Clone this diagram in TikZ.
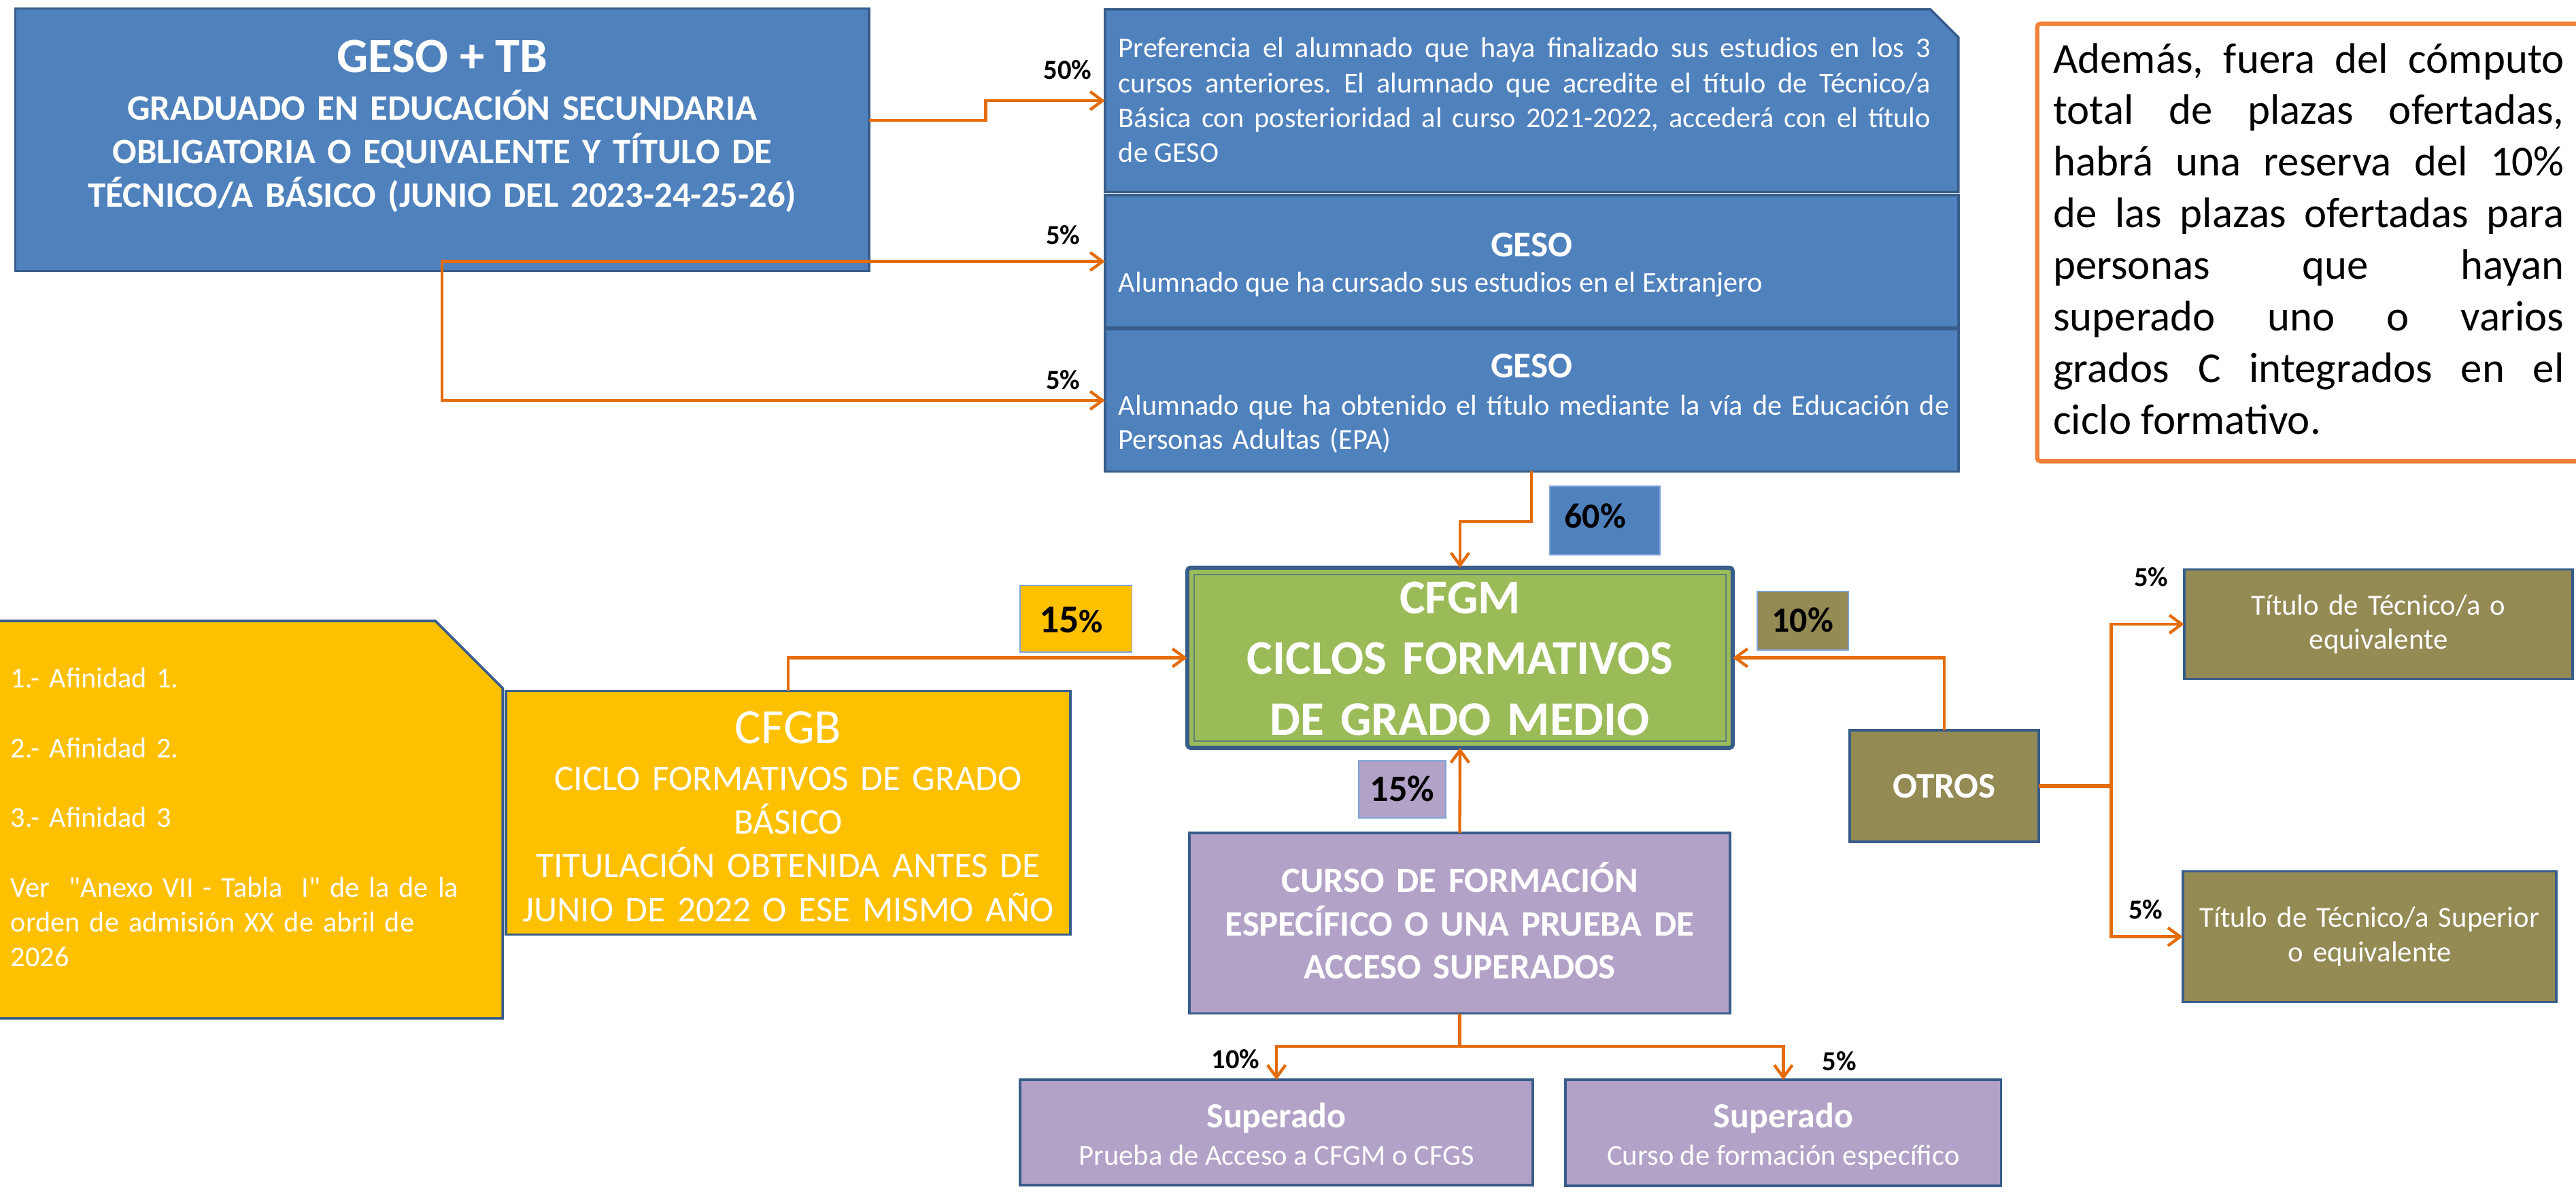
\documentclass[tikz,border=0pt]{standalone}
\usepackage{fontspec}
\setmainfont{Carlito}
\setmonofont{Carlito}
\usetikzlibrary{arrows.meta,fit}
\definecolor{bfill}{HTML}{4F81BD}
\definecolor{bdr}{HTML}{385D8A}
\definecolor{org}{HTML}{E46C0A}
\definecolor{yel}{HTML}{FFC000}
\definecolor{grn}{HTML}{9BBB59}
\definecolor{olv}{HTML}{948A54}
\definecolor{pur}{HTML}{B2A2C7}
\definecolor{nbdr}{HTML}{F0823A}
\definecolor{lbl}{HTML}{7FA3D6}
\newcommand{\fsz}[2]{\fontsize{#1pt}{#2pt}\selectfont}
\frenchspacing
\begin{document}
\frenchspacing
\begin{tikzpicture}[x=1pt,y=-1pt,
  box/.style={draw=bdr, line width=1.5pt, inner sep=0pt, outer sep=0pt},
  tag/.style={draw=lbl, line width=0.8pt, inner sep=0pt, outer sep=0pt},
  wt/.style={text=white, inner sep=0pt},
  bk/.style={text=black, inner sep=0pt},
  pct/.style={bk, font=\bfseries\fsz{16.8}{20}},
  conn/.style={draw=org, line width=1.8pt, -{Straight Barb[length=7.5pt,width=11pt]}},
]
\useasboundingbox (0,0) rectangle (1568,728);

% ---------- GESO + TB ----------
\node[box, fill=bfill, fit={(9.3,5.2) (529,165)}] (geso) {};
\node[wt, font=\bfseries\fsz{30}{36}, anchor=base] (tgeso) at (269.2,44.2) {GESO + TB};
\node[wt, text width=510pt, align=center, font=\bfseries\fsz{21.8}{26.5}, anchor=base] (sgeso) at (269.2,73.1)
  {GRADUADO EN EDUCACIÓN SECUNDARIA\\OBLIGATORIA O EQUIVALENTE Y TÍTULO DE\\TÉCNICO/A BÁSICO (JUNIO DEL 2023-24-25-26)};

% ---------- Box A (snipped corner) ----------
\node[inner sep=0pt, outer sep=0pt, fit={(672.6,5.7) (1192,116.9)}] (boxA) {};
\filldraw[fill=bfill, draw=bdr, line width=1.5pt] (boxA.north west) -- ([xshift=-17pt]boxA.north east)
  -- ([yshift=-17pt]boxA.north east) -- (boxA.south east) -- (boxA.south west) -- cycle;
\node[wt, text width=494.3pt, align=justify, font=\fsz{17.5}{21.3}, anchor=base west] (ta) at (680.7,35)
  {Preferencia el alumnado que haya finalizado sus estudios en los 3\linebreak cursos anteriores. El alumnado que acredite el título de Técnico/a\linebreak Básica con posterioridad al curso 2021-2022, accederá con el título\linebreak de GESO};

% ---------- Box B ----------
\node[box, fill=bfill, fit={(672.6,118.8) (1192,199.6)}] (boxB) {};
\node[wt, font=\bfseries\fsz{22}{26}, anchor=base] (tB1) at (932.3,156.1) {GESO};
\node[wt, font=\fsz{17.5}{21.3}, anchor=base west] (tB2) at (680.7,177.7) {Alumnado que ha cursado sus estudios en el Extranjero};

% ---------- Box C ----------
\node[box, fill=bfill, fit={(672.6,200.5) (1192,287)}] (boxC) {};
\node[wt, font=\bfseries\fsz{22}{26}, anchor=base] (tC1) at (932.3,230.1) {GESO};
\node[wt, text width=510pt, align=left, font=\fsz{17.5}{20.9}, anchor=base west] (tC2) at (680.7,252.7)
  {Alumnado que ha obtenido el título mediante la vía de Educación de\\Personas Adultas (EPA)};

% labels top
\node[pct, anchor=base east] (l50) at (664.7,48.1) {50\%};
\node[pct, anchor=base east] (l5b) at (657.6,148.9) {5\%};
\node[pct, anchor=base east] (l5c) at (657.6,237) {5\%};

% ---------- Note box ----------
\node[draw=nbdr, line width=2.6pt, fill=white, rounded corners=2pt, inner sep=0pt, fit={(1240,14.4) (1574,280.8)}] (note) {};
\node[bk, text width=311pt, align=justify, font=\fsz{26}{31.4}, anchor=base west] (tnote) at (1249.6,44.3)
  {Además, fuera del cómputo\linebreak total de plazas ofertadas,\linebreak habrá una reserva del 10\%\linebreak de las plazas ofertadas para\linebreak personas que hayan\linebreak superado uno o varios\linebreak grados C integrados en el\linebreak ciclo formativo.};

% ---------- 60% ----------
\node[tag, fill=bfill, fit={(943.5,296) (1010.5,337.8)}] (p60) {};
\node[bk, font=\bfseries\fsz{21.5}{25}, anchor=base] (t60) at (971,321.5) {60\%};

% ---------- CFGM ----------
\node[box, fill=grn, line width=2.5pt, rounded corners=2pt, fit={(722.7,345.6) (1054.7,455.3)}] (cfgm) {};
\draw[bdr!65!grn, line width=0.8pt] ([shift={(4pt,-4pt)}]cfgm.north west) rectangle ([shift={(-4pt,4pt)}]cfgm.south east);
\node[wt, text width=330pt, align=center, font=\bfseries\fsz{29.5}{37}, anchor=base] (tcfgm) at (888.7,373.5)
  {CFGM\\CICLOS FORMATIVOS\\DE GRADO MEDIO};

% ---------- 15% yellow ----------
\node[tag, fill=yel, fit={(621,356.5) (689,397)}] (p15y) {};
\node[bk, font=\bfseries\fsz{24}{28}, anchor=base] (t15y) at (652,385.2) {15{\fsz{20}{24}\%}};

% ---------- Left yellow (afinidad) ----------
\node[inner sep=0pt, outer sep=0pt, fit={(-3,378) (306,620)}] (aff) {};
\filldraw[fill=yel, draw=bdr, line width=1.5pt] (aff.north west) -- (265,378) -- (306,419)
  -- (aff.south east) -- (aff.south west) -- cycle;
\node[wt, text width=295pt, align=left, font=\fsz{17.5}{21.2}, anchor=base west] (taff) at (6.4,418.9)
  {1.- Afinidad 1.\\[21.2pt]2.- Afinidad 2.\\[21.2pt]3.- Afinidad 3\\[21.2pt]Ver\ \ {\ttfamily"}Anexo VII - Tabla\ \ I{\ttfamily"} de la de la\\orden de admisión XX de abril de\\2026};

% ---------- CFGB ----------
\node[box, fill=yel, fit={(308,420.7) (651.5,569)}] (cfgb) {};
\node[wt, font=\fsz{30}{36}, anchor=base] (tcfgb1) at (479.8,452.7) {CFGB};
\node[wt, text width=340pt, align=center, font=\fsz{22}{26.6}, anchor=base] (tcfgb2) at (479.8,481.1)
  {CICLO FORMATIVOS DE GRADO\\BÁSICO\\TITULACIÓN OBTENIDA ANTES DE\\JUNIO DE 2022 O ESE MISMO AÑO};

% ---------- 10% ----------
\node[tag, fill=olv, fit={(1069.6,360) (1125,395.7)}] (p10) {};
\node[bk, font=\bfseries\fsz{21.5}{25}, anchor=base] (t10) at (1097.3,384.8) {10\%};

% ---------- OTROS ----------
\node[box, fill=olv, fit={(1126,444.6) (1241,512.5)}] (otros) {};
\node[wt, font=\bfseries\fsz{22}{26}, anchor=base] (totros) at (1183.5,485.6) {OTROS};

% ---------- right boxes ----------
\node[box, fill=olv, fit={(1329.5,346.7) (1566,413.3)}] (r1) {};
\node[wt, text width=230pt, align=center, font=\fsz{17.7}{21}] (tr1) at (r1.center) {Título de Técnico/a o\\equivalente};
\node[box, fill=olv, fit={(1328.6,530.5) (1556,610)}] (r2) {};
\node[wt, text width=230pt, align=center, font=\fsz{17.7}{21}] (tr2) at (r2.center) {Título de Técnico/a Superior\\o equivalente};
\node[pct, anchor=base east] (l5r1) at (1320,356.9) {5\%};
\node[pct, anchor=base east] (l5r2) at (1316.6,559.4) {5\%};

% ---------- 15% purple ----------
\node[tag, fill=pur, fit={(827,463) (880,498)}] (p15p) {};
\node[bk, font=\bfseries\fsz{22.5}{27}, anchor=base] (t15p) at (853.5,487.7) {15\%};

% ---------- CURSO ----------
\node[box, fill=pur, fit={(724,507) (1053,617)}] (curso) {};
\node[wt, text width=330pt, align=center, font=\bfseries\fsz{21.8}{26.3}, anchor=base] (tcurso) at (888.5,543.3)
  {CURSO DE FORMACIÓN\\ESPECÍFICO O UNA PRUEBA DE\\ACCESO SUPERADOS};

% ---------- bottom boxes ----------
\node[box, fill=pur, fit={(621,657.4) (933,721.4)}] (b1) {};
\node[wt, font=\bfseries\fsz{21.5}{25}, anchor=base] (tb1a) at (777,686.7) {Superado};
\node[wt, font=\fsz{17.6}{21}, anchor=base] (tb1b) at (777,709.3) {Prueba de Acceso a CFGM o CFGS};
\node[box, fill=pur, fit={(953,657.4) (1218,722)}] (b2) {};
\node[wt, font=\bfseries\fsz{21.5}{25}, anchor=base] (tb2a) at (1085.5,686.7) {Superado};
\node[wt, font=\fsz{17.6}{21}, anchor=base] (tb2b) at (1085.5,709.3) {Curso de formación específico};
\node[pct, anchor=base east] (l10b) at (767,650.4) {10\%};
\node[pct, anchor=base west] (l5bb) at (1109,651.9) {5\%};

% ---------- connectors ----------
\coordinate (gy) at (0,73.2);
\coordinate (gx) at (600,0);
\coordinate (cy) at (0,317.6);
\coordinate (ox) at (1285,0);
\coordinate (by) at (0,637);
\draw[conn] (geso.east |- gy) -- (gx |- gy) |- (boxA.west);
\draw[conn] (geso.south) |- (boxB.west);
\draw[conn] (geso.south) |- (boxC.west);
\draw[conn] (boxC.south) -- (boxC.south |- cy) -| (cfgm.north);
\draw[conn] (cfgb.north) |- (cfgm.west);
\draw[conn] (otros.north) |- (cfgm.east);
\draw[conn] (otros.east) -- (otros.east -| ox) |- (r1.west);
\draw[conn] (otros.east) -- (otros.east -| ox) |- (r2.west);
\draw[draw=org, line width=2.8pt] (otros.east) -- (otros.east -| ox);
\draw[conn] (curso.north) -- (cfgm.south);
\draw[conn] (curso.south) -- (curso.south |- by) -| (b1.north);
\draw[conn] (curso.south) -- (curso.south |- by) -| (b2.north);
\end{tikzpicture}
\end{document}
